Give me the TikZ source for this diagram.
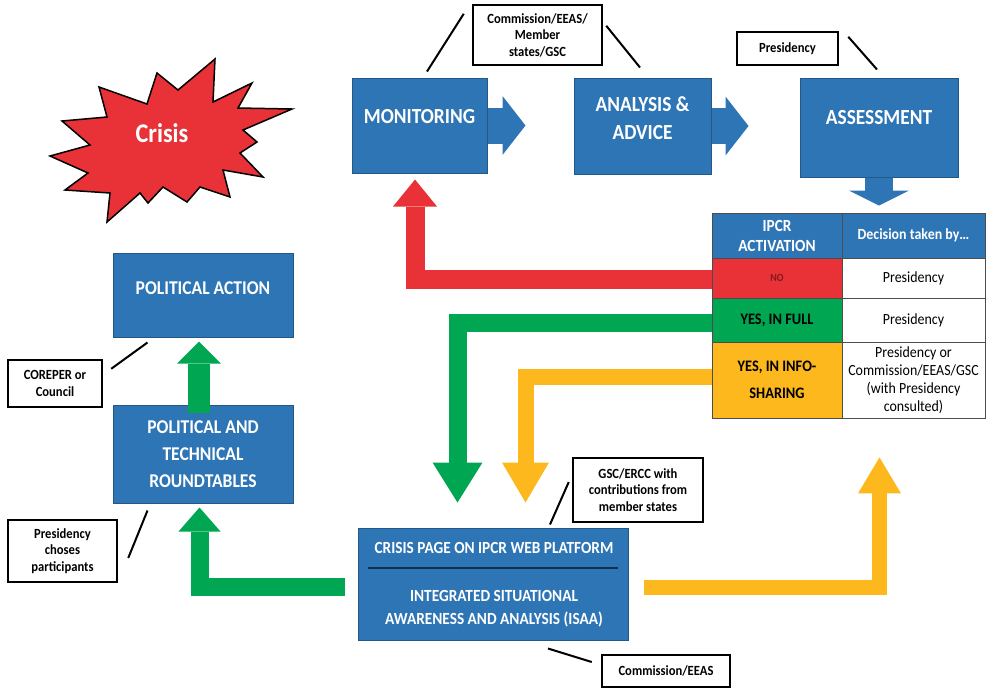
\documentclass[tikz,border=0pt]{standalone}
\usepackage{fontspec}
\setmainfont{Carlito}[FakeStretch=0.9]
\usetikzlibrary{calc,arrows.meta}

\definecolor{boxblue}{RGB}{46,117,182}
\definecolor{crisisred}{RGB}{233,50,56}
\definecolor{flowgreen}{RGB}{0,166,81}
\definecolor{flowyellow}{RGB}{252,184,28}

\tikzset{
  bluebox/.style={draw=boxblue!75!black, line width=1pt, fill=boxblue, inner sep=0},
  btext/.style={text=white, align=center, font=\bfseries\fontsize{21.5}{28}\selectfont},
  note/.style={draw=black, line width=2.5pt, fill=white, inner sep=0, align=center,
    font=\bfseries\fontsize{14}{16.5}\selectfont},
  leader/.style={draw=black, line width=2pt},
  cell/.style={draw=black!70, line width=0.8pt, inner sep=0, align=center},
  bluearrow/.style={draw=boxblue, line width=#1},
  flow/.style={line width=#1, line join=miter}
}

\begin{document}
\begin{tikzpicture}[x=1pt,y=-1pt]
	\useasboundingbox (0,0) rectangle (988,689);

	\draw[fill=crisisred, line width=1.5pt, line join=miter] (50,156) -- (90,145) -- (62,121) -- (107,117) -- (99,87) -- (147,104) -- (157,73) -- (178,90) -- (215,59) -- (213,102) -- (252,83) -- (238,108) -- (292,109) -- (243,130) -- (257,142) -- (240,153) -- (263,177) -- (223,170) -- (230,197) -- (200,187) -- (187,202) -- (163,187) -- (148,203) -- (140,193) -- (107,222) -- (110,193) -- (65,190) -- (88,173) -- cycle;
	\node[text=white, font=\bfseries\fontsize{27}{30}\selectfont] (crisis) at (162,133) {Crisis};

	\node[bluebox, minimum width=135, minimum height=95] (mon) at (419.5,125.5) {};
	\node[bluebox, minimum width=137, minimum height=96] (ana) at (642.5,126) {};
	\node[bluebox, minimum width=158, minimum height=99] (ass) at (879,127.5) {};
	\node[bluebox, minimum width=180, minimum height=84] (pol) at (203,295) {};
	\node[bluebox, minimum width=180, minimum height=98] (rt) at (203,454) {};
	\node[bluebox, minimum width=270, minimum height=112] (isaa) at (493,584) {};

	\node[btext] (monT) at ($(mon.center)+(0,-8.5)$) {MONITORING};
	\node[btext] (anaT) at ($(ana.center)+(0,-8)$) {ANALYSIS \&\\ADVICE};
	\node[btext] (assT) at ($(ass.center)+(0,-9.5)$) {ASSESSMENT};
	\node[btext, font=\bfseries\fontsize{19.5}{27}\selectfont] (polT) at ($(pol.center)+(0,-7)$) {POLITICAL ACTION};
	\node[btext, font=\bfseries\fontsize{19.5}{27}\selectfont] (rtT) at (rt.center) {POLITICAL AND\\TECHNICAL\\ROUNDTABLES};
	\node[btext, font=\bfseries\fontsize{17}{23}\selectfont] (isaaA) at ($(isaa.center)+(1,-36)$) {CRISIS PAGE ON IPCR WEB PLATFORM};
	\node[btext, font=\bfseries\fontsize{17}{23}\selectfont] (isaaB) at ($(isaa.center)+(1,24.5)$) {INTEGRATED SITUATIONAL\\AWARENESS AND ANALYSIS (ISAA)};
	\draw[draw=boxblue!40!black, line width=1.2pt] ($(isaa.west)+(10,-16)$) -- ($(isaa.east)+(-11,-16)$);

	\draw[bluearrow=36pt, -{Triangle[length=23pt,width=59pt,line width=0pt]}] (mon.east) -- ++(38,0);
	\draw[bluearrow=36pt, -{Triangle[length=23pt,width=59pt,line width=0pt]}] (ana.east) -- ++(37,0);
	\draw[bluearrow=28pt, -{Triangle[length=15pt,width=60pt,line width=0pt]}] (ass.south) -- ++(0,28);

	\node[cell, fill=boxblue, text=white, minimum width=130, minimum height=45, font=\bfseries\fontsize{17}{20}\selectfont] (hdA) at (777,235.5) {IPCR\\ACTIVATION};
	\node[cell, fill=boxblue, text=white, minimum width=143, minimum height=45, font=\bfseries\fontsize{15.5}{18}\selectfont] (hdB) at (913.5,235.5) {Decision taken by\ldots};
	\node[cell, fill=crisisred, text=crisisred!55!black, minimum width=130, minimum height=40, font=\bfseries\fontsize{11}{13}\selectfont] (noA) at (777,278) {NO};
	\node[cell, fill=white, minimum width=143, minimum height=40, font=\fontsize{15.5}{18}\selectfont] (noB) at (913.5,278) {Presidency};
	\node[cell, fill=flowgreen, minimum width=130, minimum height=44, font=\bfseries\fontsize{16}{19}\selectfont] (fullA) at (777,320) {YES, IN FULL};
	\node[cell, fill=white, minimum width=143, minimum height=44, font=\fontsize{15.5}{18}\selectfont] (fullB) at (913.5,320) {Presidency};
	\node[cell, fill=flowyellow, minimum width=130, minimum height=76, font=\bfseries\fontsize{16}{27}\selectfont] (infoA) at (777,380) {YES, IN INFO-\\SHARING};
	\node[cell, fill=white, minimum width=143, minimum height=76, font=\fontsize{15.5}{18}\selectfont] (infoB) at (913.5,380) {Presidency or\\Commission/EEAS/GSC\\(with Presidency\\consulted)};

	\draw[flow=19pt, draw=crisisred, -{Triangle[length=27pt,width=44pt,line width=0pt]}] ($(noA.west)+(0,1.5)$) -| ($(mon.south)+(-4.5,6)$);
	\draw[flow=18pt, draw=flowgreen, -{Triangle[length=40pt,width=50pt,line width=0pt]}] ($(fullA.west)+(0,2.5)$) -| ($(isaa.north)+(-35.5,-25)$);
	\draw[flow=16pt, draw=flowyellow, -{Triangle[length=40pt,width=47pt,line width=0pt]}] ($(infoA.west)+(0,-3)$) -| ($(isaa.north)+(32.5,-25)$);
	\draw[flow=15pt, draw=flowyellow, -{Triangle[length=36pt,width=43pt,line width=0pt]}] ($(isaa.east)+(15,3.5)$) -| ($(infoB.south)+(-34,39)$);
	\draw[flow=18pt, draw=flowgreen, -{Triangle[length=24pt,width=42pt,line width=0pt]}] ($(isaa.west)+(-13,2.5)$) -| ($(rt.south)+(-3.5,4)$);
	\draw[flow=22pt, draw=flowgreen, -{Triangle[length=22pt,width=44pt,line width=0pt]}] ($(rt.north)+(-4,8)$) -- ($(pol.south)+(-4,4)$);

	\node[note, minimum width=129, minimum height=60] (cme) at (537.5,35) {Commission/EEAS/\\Member\\states/GSC};
	\node[note, minimum width=101, minimum height=33] (pres) at (787.5,48.5) {Presidency};
	\node[note, minimum width=94, minimum height=47] (corep) at (55,383.5) {COREPER or\\Council};
	\node[note, minimum width=109, minimum height=62] (choose) at (62.5,551) {Presidency\\choses\\participants};
	\node[note, minimum width=130, minimum height=64] (gsc) at (638,490) {GSC/ERCC with\\contributions from\\member states};
	\node[note, minimum width=128, minimum height=32] (com) at (666,671) {Commission/EEAS};

	\draw[leader] ($(cme.north west)+(-8,10)$) -- ($(mon.north)+(7.5,-6)$);
	\draw[leader] ($(cme.north east)+(3,22)$) -- ($(ana.north)+(-2.5,-10)$);
	\draw[leader] ($(pres.north east)+(9,6)$) -- ($(ass.north)+(-2,-8)$);
	\draw[leader] ($(corep.north east)+(8,10)$) -- ($(pol.south west)+(35,5)$);
	\draw[leader] ($(choose.east)+(10,7)$) -- ($(rt.south west)+(35,7)$);
	\draw[leader] ($(gsc.west)+(-3,-8)$) -- ($(isaa.north)+(57,-3)$);
	\draw[leader] ($(com.west)+(-9,-9)$) -- ($(isaa.south)+(55,8)$);
\end{tikzpicture}
\end{document}
